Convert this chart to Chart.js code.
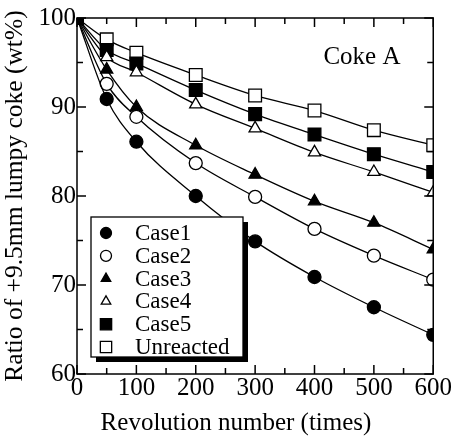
<!DOCTYPE html>
<html>
<head>
<meta charset="utf-8">
<script src="https://cdn.jsdelivr.net/npm/chart.js@4.4.0/dist/chart.umd.min.js"></script>
<style>
  html, body { margin: 0; padding: 0; background: #fff; }
  #wrap { width: 451px; height: 441px; }
</style>
</head>
<body>
<div id="wrap"><canvas id="cokeChart" width="451" height="441"></canvas></div>
<script>
// revolution numbers (times)
const revolutions = [0, 50, 100, 200, 300, 400, 500, 600];
const case1 = [100, 90.9, 86.1, 80.0, 74.9, 70.9, 67.5, 64.4];
const case2 = [100, 92.6, 88.9, 83.7, 79.9, 76.3, 73.3, 70.6];
const case3 = [100, 94.2, 90.0, 85.7, 82.4, 79.4, 77.0, 74.0];
const case4 = [100, 95.6, 93.9, 90.3, 87.6, 84.9, 82.7, 80.4];
const case5 = [100, 96.4, 94.9, 91.9, 89.2, 86.9, 84.7, 82.7];
const unreacted = [100, 97.6, 96.1, 93.6, 91.3, 89.6, 87.4, 85.7];
const xTicks = [0, 100, 200, 300, 400, 500, 600];
const yTicks = [60, 70, 80, 90, 100];

const FONT = '"Liberation Serif", "Times New Roman", serif';

function pts(vals) {
    return revolutions.map(function (r, i) { return { x: r, y: vals[i] }; });
}

function series(label, vals, style, filled, radius) {
    return {
        label: label,
        data: pts(vals),
        borderColor: '#000',
        borderWidth: 1.3,
        pointStyle: style,
        pointRadius: radius,
        pointBorderWidth: 1.3,
        pointBorderColor: '#000',
        pointBackgroundColor: filled ? '#000' : '#fff',
        cubicInterpolationMode: 'monotone',
        fill: false
    };
}

// inward ticks + frame, legend and labels
const frameTicks = {
    id: 'frameTicks',
    afterDraw: function (chart) {
        const ctx = chart.ctx;
        const a = chart.chartArea;
        const xs = chart.scales.x, ys = chart.scales.y;
        ctx.save();
        ctx.strokeStyle = '#000';
        ctx.lineWidth = 1.5;
        ctx.strokeRect(a.left, a.top, a.right - a.left, a.bottom - a.top);
        ctx.beginPath();
        for (let v = 0; v <= 600; v += 50) {
            const px = xs.getPixelForValue(v);
            const len = v % 100 === 0 ? 9 : 6;
            ctx.moveTo(px, a.bottom); ctx.lineTo(px, a.bottom - len);
            ctx.moveTo(px, a.top); ctx.lineTo(px, a.top + len);
        }
        for (let v = 60; v <= 100; v += 5) {
            const py = ys.getPixelForValue(v);
            const len = v % 10 === 0 ? 9 : 6;
            ctx.moveTo(a.left, py); ctx.lineTo(a.left + len, py);
            ctx.moveTo(a.right, py); ctx.lineTo(a.right - len, py);
        }
        ctx.stroke();

        ctx.fillStyle = '#000';
        ctx.textBaseline = 'middle';

        // x axis title (sits a bit left of centre in the original)
        ctx.font = '25px ' + FONT;
        ctx.textAlign = 'center';
        ctx.fillText('Revolution number (times)', 236, 423);

        // Coke A label
        ctx.textAlign = 'left';
        ctx.fillText('Coke A', xs.getPixelForValue(415), ys.getPixelForValue(95.6));

        // legend box
        const bx = 91, by = 217, bw = 152, bh = 140;
        ctx.fillRect(bx + 5, by + 5, bw, bh);
        ctx.fillStyle = '#fff';
        ctx.fillRect(bx, by, bw, bh);
        ctx.lineWidth = 1.3;
        ctx.strokeRect(bx, by, bw, bh);
        chart.data.datasets.forEach(function (ds, i) {
            const cy = by + 16 + i * 22.8;
            ctx.fillStyle = ds.pointBackgroundColor;
            ctx.strokeStyle = '#000';
            Chart.helpers.drawPoint(ctx, {
                pointStyle: ds.pointStyle,
                radius: ds.pointStyle === 'rect' ? 8 : 5.5,
                borderWidth: 1.3,
                rotation: 0
            }, bx + 15, cy);
            ctx.fillStyle = '#000';
            ctx.font = '23px ' + FONT;
            ctx.fillText(ds.label, bx + 44, cy + 1);
        });
        ctx.restore();
    }
};

new Chart(document.getElementById('cokeChart'), {
    type: 'line',
    data: {
        datasets: [
            series('Case1', case1, 'circle', true, 6.5),
            series('Case2', case2, 'circle', false, 6.5),
            series('Case3', case3, 'triangle', true, 7),
            series('Case4', case4, 'triangle', false, 7),
            series('Case5', case5, 'rect', true, 9),
            series('Unreacted', unreacted, 'rect', false, 9)
        ]
    },
    options: {
        responsive: false,
        animation: false,
        layout: { padding: { top: 18, right: 17, left: 0, bottom: 0 } },
        plugins: { legend: { display: false }, tooltip: { enabled: false } },
        scales: {
            x: {
                type: 'linear',
                min: 0, max: 600,
                afterBuildTicks: function (s) { s.ticks = xTicks.map(function (v) { return { value: v }; }); },
                afterFit: function (s) { s.height = 67; },
                grid: { display: false, drawTicks: false },
                border: { display: false },
                ticks: { color: '#000', font: { family: FONT, size: 25 }, padding: -1, maxRotation: 0 },
                title: { display: false }
            },
            y: {
                min: 60, max: 100,
                afterBuildTicks: function (s) { s.ticks = yTicks.map(function (v) { return { value: v }; }); },
                afterFit: function (s) { s.width = 77; },
                grid: { display: false, drawTicks: false },
                border: { display: false },
                ticks: { color: '#000', font: { family: FONT, size: 25 }, padding: 1 },
                title: { display: true, text: 'Ratio of +9.5mm lumpy coke (wt%)', color: '#000',
                         font: { family: FONT, size: 25.5 }, padding: { top: 0, bottom: 0 } }
            }
        }
    },
    plugins: [frameTicks]
});
</script>
</body>
</html>
